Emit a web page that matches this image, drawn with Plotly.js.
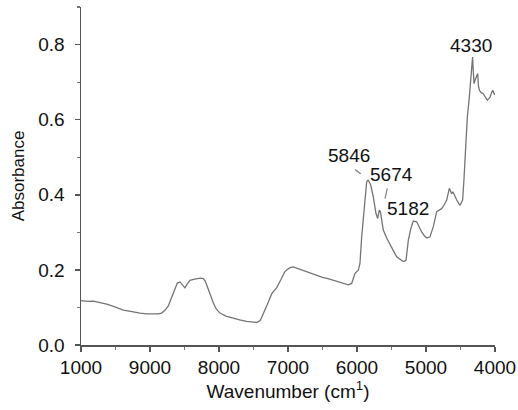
<!DOCTYPE html>
<html>
<head>
<meta charset="utf-8">
<script src="https://cdn.plot.ly/plotly-3.0.1.min.js"></script>
<style>html,body{margin:0;padding:0;background:#fff;}#chart{width:518px;height:410px;}</style>
</head>
<body>
<div id="chart"></div>
<script>
const wavenumber = [10000,9900,9820,9750,9700,9628,9550,9470,9387,9300,9200,9145,9050,8950,8880,8831,8780,8735,8680,8640,8604,8565,8530,8493,8460,8420,8370,8323,8270,8227,8200,8178,8130,8082,8040,7986,7900,7792,7700,7600,7503,7450,7400,7358,7300,7237,7190,7164,7100,7050,7019,6970,6923,6850,6780,6729,6650,6584,6500,6420,6343,6250,6180,6126,6077,6050,6029,5981,5957,5932,5910,5884,5860,5840,5801,5763,5725,5700,5677,5660,5640,5619,5570,5522,5470,5425,5380,5329,5290,5256,5220,5184,5135,5100,5063,5020,4990,4942,4894,4845,4810,4773,4740,4700,4662,4640,4628,4610,4580,4555,4507,4469,4450,4435,4415,4401,4372,4350,4338,4325,4315,4304,4290,4275,4262,4251,4240,4225,4200,4169,4140,4111,4090,4072,4050,4033,4015,4000];
const absorbance = [0.118,0.116,0.117,0.114,0.113,0.109,0.104,0.098,0.093,0.090,0.086,0.085,0.083,0.082,0.083,0.085,0.093,0.104,0.128,0.150,0.165,0.168,0.160,0.152,0.163,0.172,0.175,0.177,0.178,0.177,0.170,0.160,0.135,0.112,0.096,0.085,0.077,0.071,0.067,0.063,0.060,0.060,0.066,0.082,0.108,0.136,0.148,0.153,0.175,0.194,0.200,0.206,0.208,0.203,0.198,0.195,0.190,0.186,0.180,0.177,0.173,0.168,0.163,0.160,0.164,0.180,0.191,0.199,0.217,0.288,0.340,0.394,0.434,0.440,0.426,0.394,0.350,0.337,0.359,0.354,0.330,0.306,0.285,0.266,0.250,0.235,0.228,0.222,0.225,0.279,0.310,0.330,0.328,0.313,0.301,0.290,0.285,0.288,0.315,0.355,0.360,0.363,0.372,0.386,0.417,0.405,0.403,0.408,0.395,0.386,0.372,0.386,0.440,0.501,0.560,0.607,0.660,0.720,0.758,0.767,0.730,0.696,0.705,0.714,0.722,0.723,0.690,0.678,0.672,0.669,0.660,0.652,0.656,0.660,0.672,0.678,0.670,0.666];
const xTickVals = [10000,9000,8000,7000,6000,5000,4000];
const xTickText = ["1000","9000","8000","7000","6000","5000","4000"];
const peakLabels = ["5846","5674","5182","4330"];

const font = {family: "Liberation Sans, Arial, sans-serif", size: 19, color: "#111"};

const trace = {
  x: wavenumber, y: absorbance, type: "scatter", mode: "lines",
  line: {color: "#747474", width: 1.3}, hoverinfo: "skip"
};

const layout = {
  width: 518, height: 410,
  margin: {l: 81, r: 23, t: 7, b: 65},
  paper_bgcolor: "#fff", plot_bgcolor: "#fff",
  showlegend: false,
  font: font,
  xaxis: {
    range: [10000, 4000], tickvals: xTickVals, ticktext: xTickText,
    showgrid: false, zeroline: false, showline: true, linecolor: "#555", linewidth: 1.5,
    ticks: "outside", ticklen: 5, tickwidth: 1.5, tickcolor: "#555",
    minor: {dtick: 500, ticks: "outside", ticklen: 3, tickwidth: 1.2, tickcolor: "#777", showgrid: false},
    tickfont: font,
    title: {text: "Wavenumber (cm<sup>1</sup>)", font: font, standoff: 5}
  },
  yaxis: {
    range: [0, 0.9], dtick: 0.2, tick0: 0, tickformat: ".1f",
    showgrid: false, zeroline: false, showline: true, linecolor: "#555", linewidth: 1.5,
    ticks: "outside", ticklen: 5, tickwidth: 1.5, tickcolor: "#555",
    ticklabelstandoff: 6,
    minor: {dtick: 0.1, ticks: "outside", ticklen: 3, tickwidth: 1.2, tickcolor: "#777", showgrid: false},
    tickfont: font,
    title: {text: "Absorbance", font: {family: font.family, size: 17, color: "#111"}, standoff: 9}
  },
  annotations: [
    {x: 6123, y: 0.504, text: peakLabels[0], showarrow: false, font: font, xanchor: "center", yanchor: "middle"},
    {x: 5500, y: 0.455, text: peakLabels[1], showarrow: false, font: font, xanchor: "center", yanchor: "middle"},
    {x: 5261, y: 0.363, text: peakLabels[2], showarrow: false, font: font, xanchor: "center", yanchor: "middle"},
    {x: 4348, y: 0.798, text: peakLabels[3], showarrow: false, font: font, xanchor: "center", yanchor: "middle"}
  ],
  shapes: [
    {type: "line", x0: 6029, y0: 0.467, x1: 5946, y1: 0.456, line: {color: "#888", width: 1.3}},
    {type: "line", x0: 5561, y0: 0.417, x1: 5594, y1: 0.390, line: {color: "#888", width: 1.3}}
  ]
};

Plotly.newPlot("chart", [trace], layout, {staticPlot: true, displayModeBar: false});
</script>
</body>
</html>
